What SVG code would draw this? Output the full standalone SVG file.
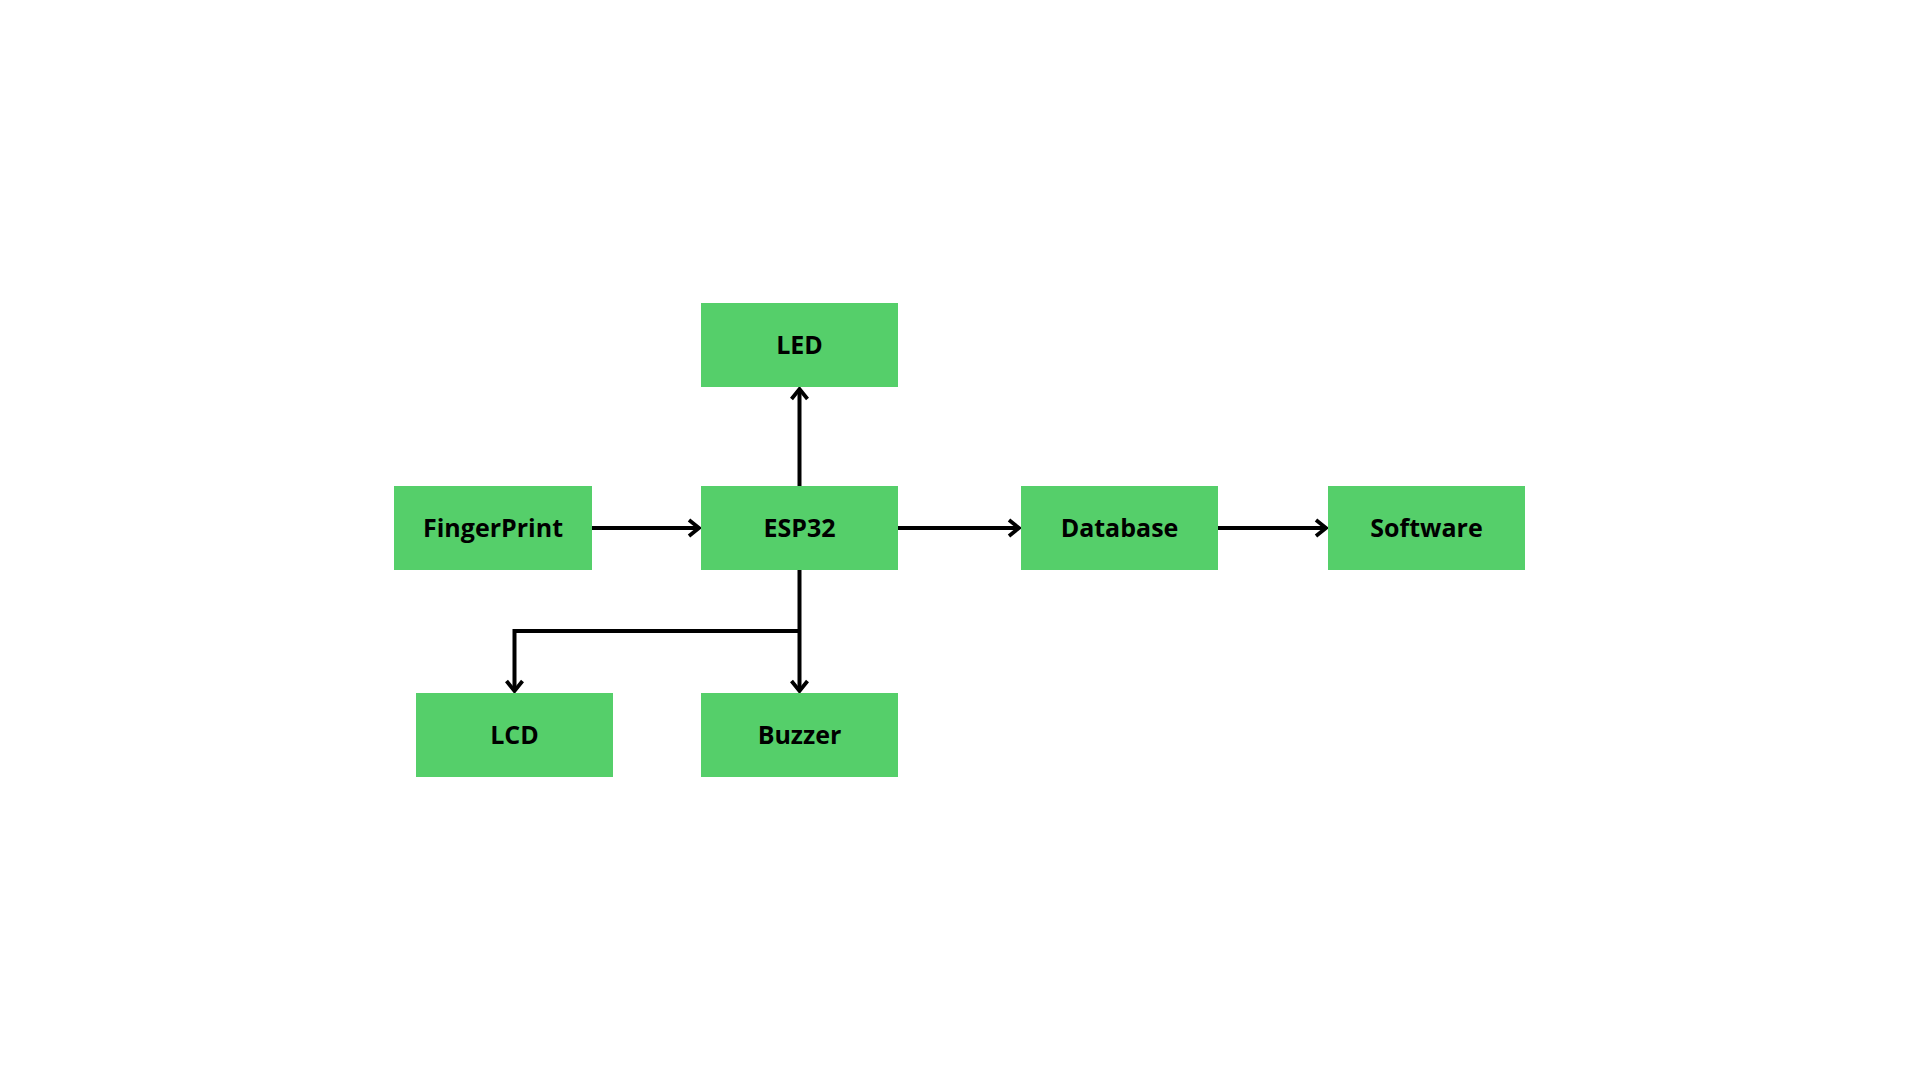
<svg xmlns="http://www.w3.org/2000/svg" width="1920" height="1080" viewBox="0 0 1920 1080">
  <defs>
    <style>
      .box { fill: #55CF6A; }
      .lbl { font-family: "Open Sans", "Noto Sans", "DejaVu Sans", sans-serif; font-weight: 700; font-size: 25px; fill: #000000; text-anchor: middle; }
      .conn { fill: none; stroke: #000000; stroke-width: 4; stroke-linejoin: miter; }
    </style>
    <marker id="arrow" markerUnits="userSpaceOnUse" markerWidth="30" markerHeight="30" viewBox="-15 -15 30 30" refX="0" refY="0" orient="auto" overflow="visible">
      <path d="M-10,-8 L0,0 L-10,8" fill="none" stroke="#000000" stroke-width="3.8" stroke-linejoin="miter"/>
    </marker>
  </defs>
  <rect width="1920" height="1080" fill="#FFFFFF"/>

  <g id="connectors">
    <path class="conn" d="M592,528 L699,528" marker-end="url(#arrow)"/>
    <path class="conn" d="M799.5,486 L799.5,389" marker-end="url(#arrow)"/>
    <path class="conn" d="M898,528 L1019,528" marker-end="url(#arrow)"/>
    <path class="conn" d="M1218,528 L1326,528" marker-end="url(#arrow)"/>
    <path class="conn" d="M799.5,570 L799.5,691" marker-end="url(#arrow)"/>
    <path class="conn" d="M799.5,631 L514.5,631 L514.5,691" marker-end="url(#arrow)"/>
  </g>

  <g id="node-led">
    <rect class="box" x="701" y="303" width="197" height="84"/>
    <text class="lbl" x="799.5" y="354">LED</text>
  </g>
  <g id="node-fingerprint">
    <rect class="box" x="394" y="486" width="198" height="84"/>
    <text class="lbl" x="493" y="537">FingerPrint</text>
  </g>
  <g id="node-esp32">
    <rect class="box" x="701" y="486" width="197" height="84"/>
    <text class="lbl" x="799.5" y="537">ESP32</text>
  </g>
  <g id="node-database">
    <rect class="box" x="1021" y="486" width="197" height="84"/>
    <text class="lbl" x="1119.5" y="537">Database</text>
  </g>
  <g id="node-software">
    <rect class="box" x="1328" y="486" width="197" height="84"/>
    <text class="lbl" x="1426.5" y="537">Software</text>
  </g>
  <g id="node-lcd">
    <rect class="box" x="416" y="693" width="197" height="84"/>
    <text class="lbl" x="514.5" y="744">LCD</text>
  </g>
  <g id="node-buzzer">
    <rect class="box" x="701" y="693" width="197" height="84"/>
    <text class="lbl" x="799.5" y="744">Buzzer</text>
  </g>
</svg>
